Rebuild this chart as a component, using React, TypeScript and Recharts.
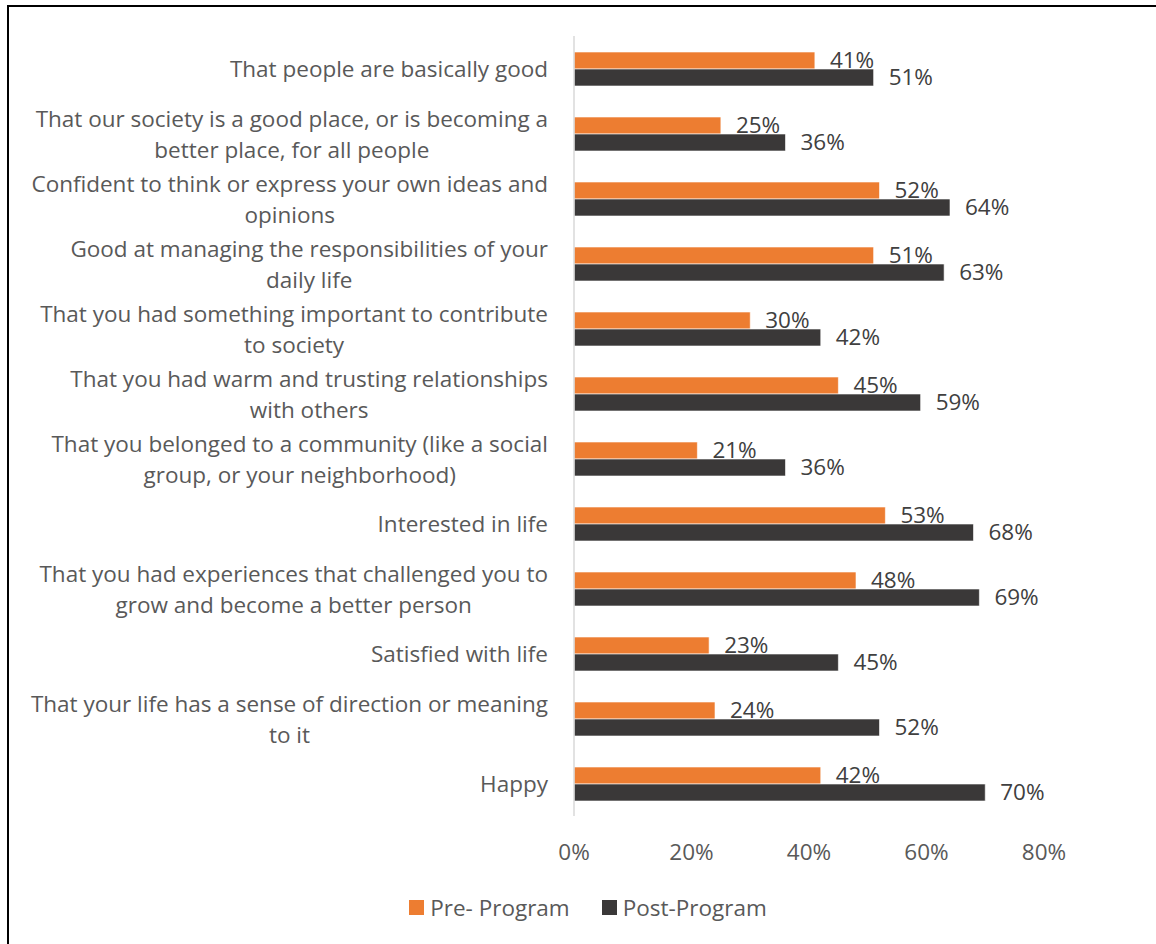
import React from "react";
import { BarChart, Bar, XAxis, YAxis, LabelList, Legend } from "recharts";

const categories: string[] = [
  "That people are basically good",
  "That our society is a good place, or is becoming a\nbetter place, for all people",
  "Confident to think or express your own ideas and\nopinions",
  "Good at managing the responsibilities of your\ndaily life",
  "That you had something important to contribute\nto society",
  "That you had warm and trusting relationships\nwith others",
  "That you belonged to a community (like a social\ngroup, or your neighborhood)",
  "Interested in life",
  "That you had experiences that challenged you to\ngrow and become a better person",
  "Satisfied with life",
  "That your life has a sense of direction or meaning\nto it",
  "Happy",
];
const preProgram: number[] = [41, 25, 52, 51, 30, 45, 21, 53, 48, 23, 24, 42];
const postProgram: number[] = [51, 36, 64, 63, 42, 59, 36, 68, 69, 45, 52, 70];
const xTicks: number[] = [0, 20, 40, 60, 80];
const seriesNames = ["Pre- Program", "Post-Program"];

const data = categories.map((name, i) => ({
  name,
  pre: preProgram[i],
  post: postProgram[i],
}));

const FONT = "'Open Sans', 'Noto Sans', sans-serif";
const FS = 22.5;
const ORANGE = "#ED7D31";
const DARK = "#3A3838";
const TEXT = "#595959";

let ctx: CanvasRenderingContext2D | null = null;
function measure(t: string): number {
  if (!ctx) {
    const c = document.createElement("canvas");
    ctx = c.getContext("2d");
  }
  if (!ctx) return t.length * 11;
  ctx.font = `${FS}px 'Open Sans'`;
  return ctx.measureText(t).width;
}

const YTick = (props: any) => {
  const { x, y, payload } = props;
  const lines = String(payload.value).split("\n");
  const maxW = Math.max(...lines.map(measure));
  const cx = x - 18 - maxW / 2;
  const lh = 31;
  const startY = y - ((lines.length - 1) * lh) / 2;
  return (
    <g>
      {lines.map((l, i) => (
        <text
          key={i}
          x={cx}
          y={startY + i * lh}
          textAnchor="middle"
          dominantBaseline="central"
          fill={TEXT}
          fontSize={FS}
          fontFamily={FONT}
        >
          {l}
        </text>
      ))}
    </g>
  );
};

const XTick = (props: any) => {
  const { x, y, payload } = props;
  return (
    <text
      x={x}
      y={y + 27}
      textAnchor="middle"
      dominantBaseline="central"
      fill={TEXT}
      fontSize={FS}
      fontFamily={FONT}
    >
      {payload.value + "%"}
    </text>
  );
};

const LegendContent = () => (
  <div
    style={{
      display: "flex",
      justifyContent: "center",
      alignItems: "center",
      height: 30,
      paddingLeft: 20,
      fontFamily: FONT,
      fontSize: FS,
      color: TEXT,
    }}
  >
    {[ORANGE, DARK].map((c, i) => (
      <div key={i} style={{ display: "flex", alignItems: "center", marginRight: i === 0 ? 32 : 0 }}>
        <span style={{ width: 15, height: 15, background: c, display: "inline-block", marginRight: 6 }} />
        <span>{seriesNames[i]}</span>
      </div>
    ))}
  </div>
);

export default function App() {
  return (
    <div style={{ position: "absolute", left: 0, top: 0, width: 1156, height: 944, background: "#fff", overflow: "hidden" }}>
      <div
        style={{
          position: "absolute",
          left: 7,
          top: 5,
          width: 1200,
          height: 1000,
          borderTop: "2px solid #000",
          borderLeft: "2px solid #000",
        }}
      />
      <div style={{ position: "absolute", left: 0, top: 0 }}>
        <BarChart
          width={1156}
          height={944}
          data={data}
          layout="vertical"
          margin={{ top: 36, right: 112, bottom: 68, left: 0 }}
          barGap={0}
        >
          <XAxis
            type="number"
            domain={[0, 80]}
            ticks={xTicks}
            axisLine={false}
            tickLine={false}
            tick={<XTick />}
            interval={0}
          />
          <YAxis
            type="category"
            dataKey="name"
            width={574}
            axisLine={{ stroke: "#D9D9D9", strokeWidth: 1.5 }}
            tickLine={false}
            tick={<YTick />}
            interval={0}
          />
          <Legend
            verticalAlign="bottom"
            content={<LegendContent />}
            wrapperStyle={{ left: 0, width: 1156, top: 892, height: 30 }}
          />
          <Bar dataKey="pre" name={seriesNames[0]} fill={ORANGE} barSize={17} stroke="#ffffff" strokeWidth={0.6} isAnimationActive={false}>
            <LabelList
              dataKey="pre"
              position="right"
              offset={15}
              formatter={(v: any) => v + "%"}
              fill="#404040"
              fontSize={FS}
              fontFamily={FONT}
            />
          </Bar>
          <Bar dataKey="post" name={seriesNames[1]} fill={DARK} barSize={17} stroke="#ffffff" strokeWidth={0.6} isAnimationActive={false}>
            <LabelList
              dataKey="post"
              position="right"
              offset={15}
              formatter={(v: any) => v + "%"}
              fill="#404040"
              fontSize={FS}
              fontFamily={FONT}
            />
          </Bar>
        </BarChart>
      </div>
    </div>
  );
}
